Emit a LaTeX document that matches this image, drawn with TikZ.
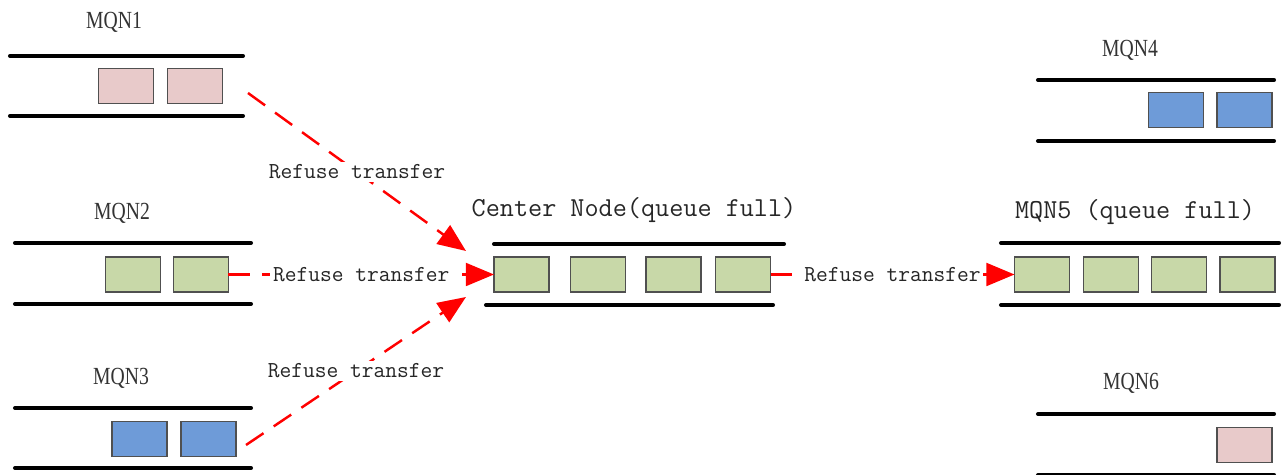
\documentclass[tikz,border=0pt]{standalone}
\usepackage{fontspec}
\setmainfont{Liberation Serif}
\newfontfamily\mqnfont[FakeStretch=0.8]{Liberation Serif}
\usetikzlibrary{arrows.meta}
\definecolor{qpink}{HTML}{E8CACA}
\definecolor{qgreen}{HTML}{C8D8A8}
\definecolor{qblue}{HTML}{6E9BD8}
\definecolor{qedge}{HTML}{505050}
\definecolor{qred}{HTML}{FF0000}
\tikzset{
  qbox/.style={draw=qedge, line width=0.9pt, minimum width=1.1cm, minimum height=0.7cm, inner sep=0pt, outer sep=0pt},
  rail/.style={line width=2.3pt, line cap=round, black},
  qlabel/.style={font=\mqnfont\fontsize{14}{16}\selectfont, text=black!80, inner sep=0pt},
  clabel/.style={font=\ttfamily\fontsize{15.6}{18}\selectfont, text=black!85, inner sep=0pt},
  reflabel/.style={font=\ttfamily\fontsize{13}{15}\selectfont, text=black!85, fill=white, inner sep=1.5pt},
  refarrow/.style={draw=qred, line width=1.4pt, dash pattern=on 12pt off 7pt, -{Triangle[length=16pt,width=13pt]}},
}
\begin{document}
\begin{tikzpicture}[x=0.02cm, y=-0.02cm]
\useasboundingbox (0,0) rectangle (1284,475);

% MQN1
\node[qlabel] (l1) at (114,22) {MQN1};
\draw[rail] (10,56) -- (243,56);
\draw[rail] (10,116) -- (243,116);
\node[qbox, fill=qpink] (m1a) at (126,86) {};
\node[qbox, fill=qpink] (m1b) at (195,86) {};

% MQN2
\node[qlabel] (l2) at (122,213) {MQN2};
\draw[rail] (15,243) -- (251,243);
\draw[rail] (15,304) -- (251,304);
\node[qbox, fill=qgreen] (m2a) at (133,274.5) {};
\node[qbox, fill=qgreen] (m2b) at (201,274.5) {};

% MQN3
\node[qlabel] (l3) at (121,378) {MQN3};
\draw[rail] (15,408) -- (251,408);
\draw[rail] (15,468) -- (251,468);
\node[qbox, fill=qblue] (m3a) at (139.5,439) {};
\node[qbox, fill=qblue] (m3b) at (208.5,439) {};

% Center
\node[clabel] (lc) at (634,210) {Center Node(queue full)};
\draw[rail] (494,244) -- (784,244);
\draw[rail] (486,305) -- (773,305);
\node[qbox, fill=qgreen] (c1) at (521.5,274.5) {};
\node[qbox, fill=qgreen] (c2) at (598,274.5) {};
\node[qbox, fill=qgreen] (c3) at (673.5,274.5) {};
\node[qbox, fill=qgreen] (c4) at (743,274.5) {};

% MQN4
\node[qlabel] (l4) at (1130,50) {MQN4};
\draw[rail] (1038,80) -- (1274,80);
\draw[rail] (1038,141) -- (1274,141);
\node[qbox, fill=qblue] (m4a) at (1176,110) {};
\node[qbox, fill=qblue] (m4b) at (1244.5,110) {};

% MQN5
\node[clabel] (l5) at (1135,212) {MQN5 (queue full)};
\draw[rail] (1001,243) -- (1279,243);
\draw[rail] (1001,305) -- (1279,305);
\node[qbox, fill=qgreen] (m5a) at (1042,274.5) {};
\node[qbox, fill=qgreen] (m5b) at (1111,274.5) {};
\node[qbox, fill=qgreen] (m5c) at (1179,274.5) {};
\node[qbox, fill=qgreen] (m5d) at (1247.5,274.5) {};

% MQN6
\node[qlabel] (l6) at (1131,383) {MQN6};
\draw[rail] (1038,414) -- (1274,414);
\draw[rail] (1038,475) -- (1274,475);
\node[qbox, fill=qpink] (m6a) at (1244.5,445) {};

% connectors
\coordinate (s1) at (248,93);
\coordinate (e1) at (466,251);
\coordinate (s3) at (246,445);
\coordinate (e3) at (466,297);

\draw[refarrow] (s1) -- node[reflabel] {Refuse transfer} (e1);
\draw[refarrow] (m2b.east) -- node[reflabel] {Refuse transfer} (c1.west);
\draw[refarrow] (s3) -- node[reflabel] {Refuse transfer} (e3);
\draw[refarrow] (c4.east) -- node[reflabel] {Refuse transfer} (m5a.west);
\end{tikzpicture}
\end{document}
